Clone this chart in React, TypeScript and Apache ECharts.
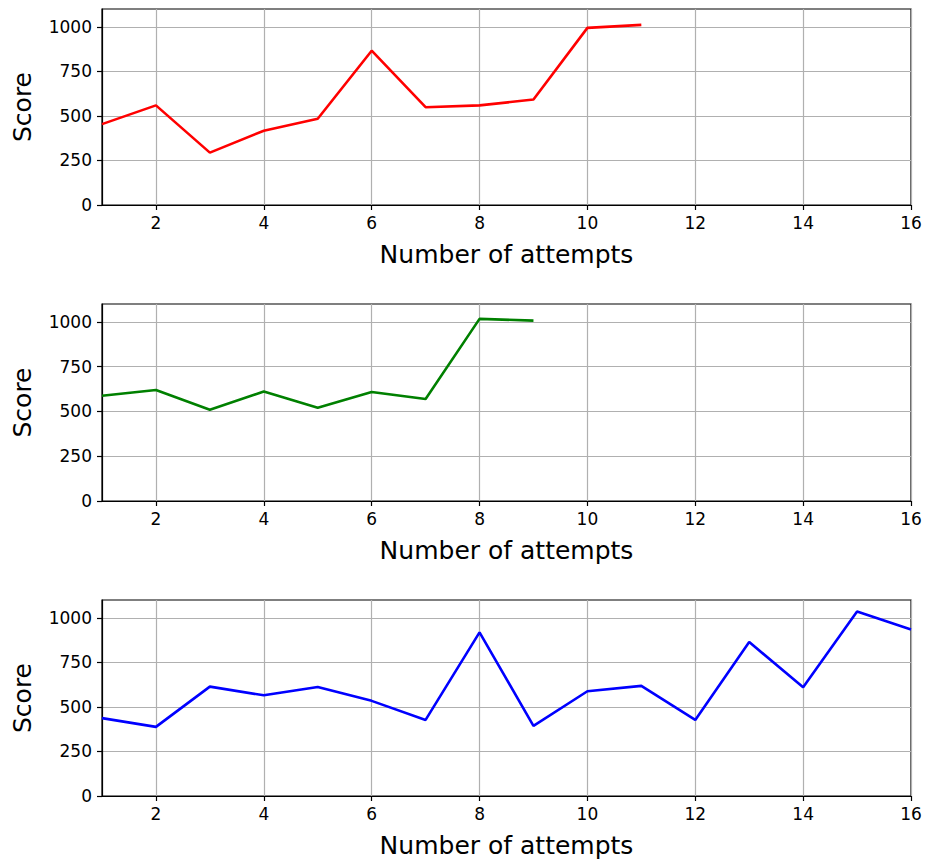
import React, { useEffect, useRef } from "react";
import * as echarts from "echarts";

const attemptsRed = [1, 2, 3, 4, 5, 6, 7, 8, 9, 10, 11];
const scoresRed = [454, 559, 294, 417, 484, 866, 549, 559, 592, 994, 1011];

const attemptsGreen = [1, 2, 3, 4, 5, 6, 7, 8, 9];
const scoresGreen = [588, 620, 510, 611, 521, 609, 570, 1017, 1007];

const attemptsBlue = [1, 2, 3, 4, 5, 6, 7, 8, 9, 10, 11, 12, 13, 14, 15, 16];
const scoresBlue = [437, 388, 614, 565, 612, 534, 427, 918, 394, 588, 618, 427, 864, 610, 1035, 935];

const xTicks = [2, 4, 6, 8, 10, 12, 14, 16];
const yTicks = [0, 250, 500, 750, 1000];

const FONT = "DejaVu Sans";

export default function App() {
  const ref = useRef<HTMLDivElement>(null);

  useEffect(() => {
    document.body.style.margin = "0";
    if (!ref.current) return;
    const chart = echarts.init(ref.current, undefined, { renderer: "svg" });

    const tops = [9, 304, 600];
    const heights = [196, 197, 196];
    const seriesDefs = [
      { x: attemptsRed, y: scoresRed, color: "#ff0000" },
      { x: attemptsGreen, y: scoresGreen, color: "#008000" },
      { x: attemptsBlue, y: scoresBlue, color: "#0000ff" },
    ];

    const grids = tops.map((t, i) => ({
      left: 102,
      width: 809,
      top: t,
      height: heights[i],
      show: true,
      borderColor: "#000",
      borderWidth: 1.2,
      backgroundColor: "transparent",
    }));

    const xAxes = tops.map((_, i) => ({
      type: "value",
      gridIndex: i,
      min: 1,
      max: 16,
      name: "Number of attempts",
      nameLocation: "middle",
      nameGap: 37,
      nameTextStyle: { fontFamily: FONT, fontSize: 25, color: "#000" },
      axisLine: { show: true, onZero: false, lineStyle: { color: "#000", width: 1.2 } },
      axisTick: { show: true, length: 5, customValues: xTicks, lineStyle: { color: "#000", width: 1.2 } },
      axisLabel: {
        customValues: xTicks,
        formatter: (v: number) => String(v),
        fontFamily: FONT,
        fontSize: 17,
        color: "#000",
        margin: 9,
      },
      splitLine: { show: true, lineStyle: { color: "#b0b0b0", width: 1.2 } },
    }));

    const yAxes = tops.map((_, i) => ({
      type: "value",
      gridIndex: i,
      min: 0,
      max: 1100,
      name: "Score",
      nameLocation: "middle",
      nameGap: 67,
      nameRotate: 90,
      nameTextStyle: { fontFamily: FONT, fontSize: 25, color: "#000" },
      axisLine: { show: true, lineStyle: { color: "#000", width: 1.2 } },
      axisTick: { show: true, length: 5, customValues: yTicks, lineStyle: { color: "#000", width: 1.2 } },
      axisLabel: {
        customValues: yTicks,
        formatter: (v: number) => String(v),
        fontFamily: FONT,
        fontSize: 17,
        color: "#000",
        margin: 10,
      },
      splitLine: { show: true, lineStyle: { color: "#b0b0b0", width: 1.2 } },
    }));

    const series = seriesDefs.map((d, i) => ({
      type: "line",
      xAxisIndex: i,
      yAxisIndex: i,
      data: d.x.map((xv, j) => [xv, d.y[j]]),
      showSymbol: false,
      symbol: "none",
      lineStyle: { color: d.color, width: 2.6 },
      itemStyle: { color: d.color },
      clip: true,
    }));

    chart.setOption({
      animation: false,
      backgroundColor: "#fff",
      grid: grids,
      xAxis: xAxes,
      yAxis: yAxes,
      series,
    });

    return () => chart.dispose();
  }, []);

  return <div ref={ref} style={{ width: 936, height: 859 }} />;
}
